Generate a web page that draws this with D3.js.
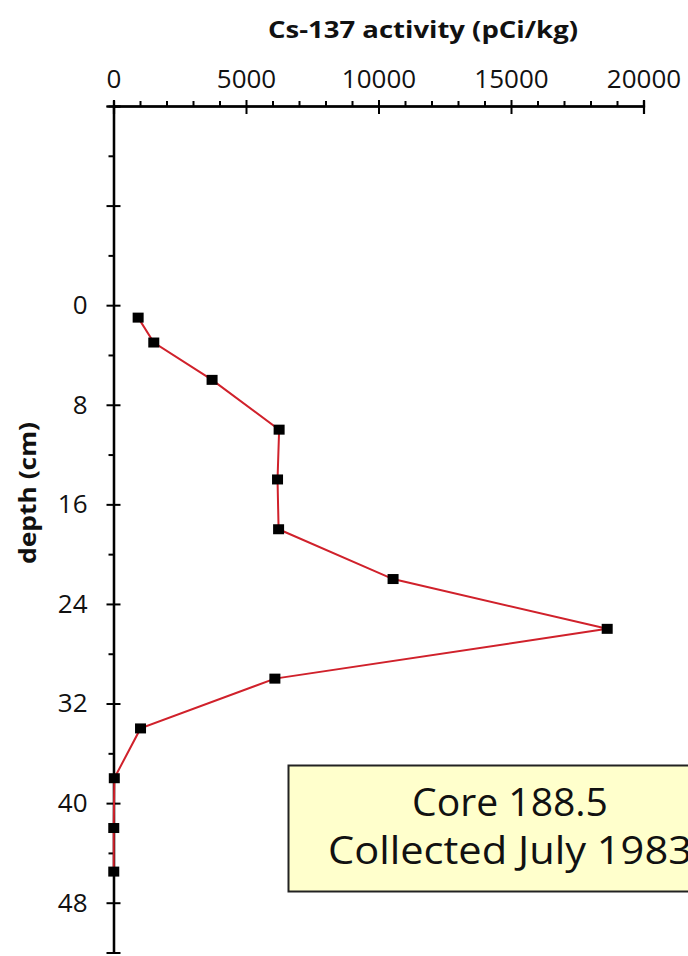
<!DOCTYPE html>
<html>
<head>
<meta charset="utf-8">
<script src="https://cdn.jsdelivr.net/npm/d3@7"></script>
<style>
  body { margin: 0; background: #fff; }
  svg { display: block; }
</style>
</head>
<body>
<svg id="chart" width="688" height="956"></svg>
<script>
// ---- data ----
const depths = [1, 3, 6, 10, 14, 18, 22, 26, 30, 34, 38, 42, 45.5];
const activity = [930, 1520, 3720, 6250, 6190, 6230, 10550, 18630, 6090, 1020, 30, 10, 10];
const xMajorTicks = [0, 5000, 10000, 15000, 20000];
const xMinorTicks = d3.range(0, 20001, 1000).filter(v => v % 5000 !== 0);
const yMajorTicks = [-16, -8, 0, 8, 16, 24, 32, 40, 48];
const yLabelTicks = [0, 8, 16, 24, 32, 40, 48];
const yMinorTicks = [-12, -4, 4, 12, 20, 28, 36, 44, 52];
const xTitle = "Cs-137 activity (pCi/kg)";
const yTitle = "depth (cm)";
const noteLines = ["Core 188.5", "Collected July 1983"];

const svg = d3.select("#chart");
const font = "'Open Sans', 'DejaVu Sans', sans-serif";

const x = d3.scaleLinear().domain([0, 20000]).range([113.5, 643.5]);
const y = d3.scaleLinear().domain([-16, 52]).range([106, 952.5]);

// note box
const box = svg.append("g");
box.append("rect")
  .attr("x", 288.5).attr("y", 765.5)
  .attr("width", 444).attr("height", 126)
  .attr("fill", "#ffffcc").attr("stroke", "#222").attr("stroke-width", 2);
const noteWidths = [196, 364];
box.selectAll("text").data(noteLines).join("text")
  .attr("x", 510).attr("y", (d, i) => 816 + i * 48)
  .attr("text-anchor", "middle")
  .attr("font-family", font).attr("font-size", 39)
  .attr("textLength", (d, i) => noteWidths[i]).attr("lengthAdjust", "spacingAndGlyphs")
  .attr("fill", "#111")
  .text(d => d);

// X axis (top)
const gx = svg.append("g").attr("transform", `translate(0,${y(-16)})`);
gx.call(d3.axisTop(x).tickValues(xMajorTicks).tickSize(6).tickPadding(12).tickFormat(d3.format("d")));
gx.append("g").call(d3.axisBottom(x).tickValues(xMajorTicks).tickSize(8).tickFormat(""));
gx.append("g").call(d3.axisTop(x).tickValues(xMinorTicks).tickSize(5).tickFormat(""));

// Y axis (left)
const gy = svg.append("g").attr("transform", `translate(${x(0)},0)`);
gy.call(d3.axisLeft(y).tickValues(yMajorTicks).tickSize(7).tickPadding(19)
  .tickFormat(d => yLabelTicks.includes(d) ? d : ""));
gy.append("g").call(d3.axisRight(y).tickValues(yMajorTicks).tickSize(7).tickFormat(""));
gy.append("g").call(d3.axisLeft(y).tickValues(yMinorTicks).tickSize(5).tickFormat(""));

svg.selectAll(".domain").attr("stroke", "#000").attr("stroke-width", 2.2);
svg.selectAll(".tick line").attr("stroke", "#000").attr("stroke-width", 2);
svg.selectAll(".tick text").attr("font-family", font).attr("font-size", 26).attr("fill", "#111");

// Titles
svg.append("text")
  .attr("x", 423).attr("y", 38)
  .attr("text-anchor", "middle")
  .attr("font-family", font).attr("font-weight", "bold").attr("font-size", 24)
  .attr("textLength", 310).attr("lengthAdjust", "spacingAndGlyphs")
  .attr("fill", "#111")
  .text(xTitle);
svg.append("text")
  .attr("transform", `translate(36,493) rotate(-90)`)
  .attr("text-anchor", "middle")
  .attr("font-family", font).attr("font-weight", "bold").attr("font-size", 24)
  .attr("textLength", 142).attr("lengthAdjust", "spacingAndGlyphs")
  .attr("fill", "#111")
  .text(yTitle);

// Data line
const data = depths.map((d, i) => ({ depth: d, value: activity[i] }));
svg.append("path")
  .datum(data)
  .attr("fill", "none")
  .attr("stroke", "#d0212b")
  .attr("stroke-width", 2)
  .attr("d", d3.line().x(d => x(d.value)).y(d => y(d.depth)));

svg.selectAll("rect.pt").data(data).join("rect")
  .attr("class", "pt")
  .attr("x", d => x(d.value) - 5.5).attr("y", d => y(d.depth) - 5)
  .attr("width", 11).attr("height", 10)
  .attr("fill", "#000");
</script>
</body>
</html>
